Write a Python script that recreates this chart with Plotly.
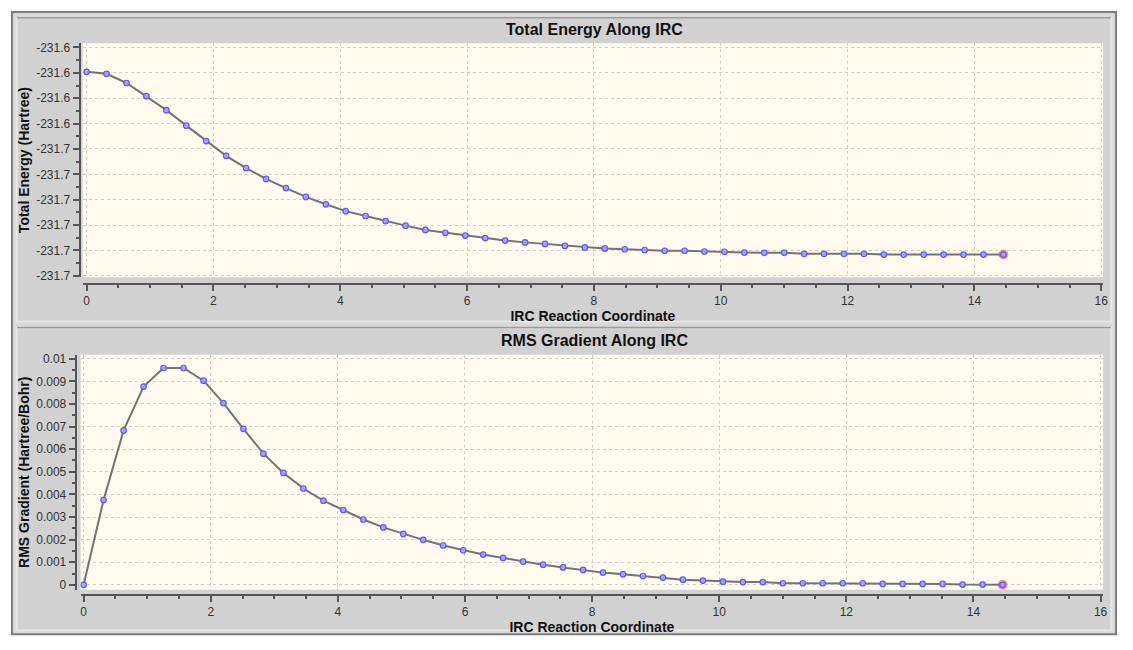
import plotly.graph_objects as go

# ---- data ----
irc_coord = [0.000, 0.314, 0.629, 0.943, 1.257, 1.572, 1.886, 2.200, 2.514, 2.829,
             3.143, 3.457, 3.772, 4.086, 4.400, 4.715, 5.029, 5.343, 5.657, 5.972,
             6.286, 6.600, 6.915, 7.229, 7.543, 7.858, 8.172, 8.486, 8.800, 9.115,
             9.429, 9.743, 10.058, 10.372, 10.686, 11.001, 11.315, 11.629, 11.943, 12.258,
             12.572, 12.886, 13.201, 13.515, 13.829, 14.144, 14.458]

total_energy = [-231.6196, -231.6204, -231.6240, -231.6292, -231.6347, -231.6408, -231.6469,
                -231.6527, -231.6575, -231.6618, -231.6654, -231.6689, -231.6718, -231.6745,
                -231.6764, -231.6784, -231.6802, -231.6819, -231.6830, -231.6841, -231.6851,
                -231.6861, -231.6868, -231.6874, -231.6882, -231.6888, -231.6892, -231.6895,
                -231.6898, -231.6901, -231.6901, -231.6904, -231.6905, -231.6908, -231.6909,
                -231.6909, -231.6913, -231.6913, -231.6913, -231.6913, -231.6916, -231.6916,
                -231.6916, -231.6916, -231.6916, -231.6916, -231.6916]

rms_gradient = [0.0, 0.00375, 0.00683, 0.00877, 0.00959, 0.00959, 0.00903, 0.00804, 0.00690,
                0.00580, 0.00495, 0.00426, 0.00372, 0.00331, 0.00289, 0.00254, 0.00225,
                0.00199, 0.00174, 0.00153, 0.00134, 0.00119, 0.00103, 0.00089, 0.00077,
                0.00066, 0.00054, 0.00047, 0.00039, 0.00032, 0.00023, 0.00019, 0.00014,
                0.00012, 0.00012, 0.00007, 0.00007, 0.00007, 0.00007, 0.00007, 0.00004,
                0.00004, 0.00004, 0.00004, 0.00001, 0.00001, 0.0]

energy_tickvals = [-231.61, -231.62, -231.63, -231.64, -231.65, -231.66, -231.67, -231.68, -231.69, -231.70]
energy_ticktext = ["-231.6", "-231.6", "-231.6", "-231.6", "-231.7", "-231.7", "-231.7", "-231.7", "-231.7", "-231.7"]
energy_minor = [-231.615, -231.625, -231.635, -231.645, -231.655, -231.665, -231.675, -231.685, -231.695]
grad_tickvals = [0, 0.001, 0.002, 0.003, 0.004, 0.005, 0.006, 0.007, 0.008, 0.009, 0.01]
grad_ticktext = ["0", "0.001", "0.002", "0.003", "0.004", "0.005", "0.006", "0.007", "0.008", "0.009", "0.01"]

panel_titles = ["Total Energy Along IRC", "RMS Gradient Along IRC"]
x_title = "IRC Reaction Coordinate"
y_titles = ["Total Energy (Hartree)", "RMS Gradient (Hartree/Bohr)"]

# ---- styling ----
W, H = 1133, 650
FONT = "Liberation Sans, Arial, sans-serif"
LINE_COL = "#737373"
MK_FILL = "rgba(165,165,255,0.9)"
MK_EDGE = "#5a5aff"
AX_COL = "#555555"
GRID_COL = "#cfcfcf"
PANEL = "#d1d1d1"
PLOT_BG = "#fffbef"


def px(x):
    return x / W


def py(y):
    return 1 - y / H


# plot-area boxes in pixels (left, right, top, bottom)
TOP_BOX = (83, 1108, 40.7, 278)
BOT_BOX = (81, 1108, 356.7, 595)

fig = go.Figure()

for xa, ya, yv in (("x", "y", total_energy), ("x2", "y2", rms_gradient)):
    fig.add_trace(go.Scatter(
        x=irc_coord[-1:], y=yv[-1:], xaxis=xa, yaxis=ya, mode="markers",
        marker=dict(size=10, color="rgba(255,115,115,0.8)", line=dict(width=0)),
        hoverinfo="skip", showlegend=False))
    fig.add_trace(go.Scatter(
        x=irc_coord, y=yv, xaxis=xa, yaxis=ya, mode="lines+markers",
        line=dict(color=LINE_COL, width=2),
        marker=dict(size=5.5, color=MK_FILL, line=dict(color=MK_EDGE, width=1.2)),
        showlegend=False))

tickfont = dict(family=FONT, size=12, color="#333333")
titlefont = dict(family=FONT, size=14, color="#111111", weight="bold")

common_x = dict(
    tick0=0, dtick=2, ticks="outside", ticklen=6, tickwidth=1.5, tickcolor=AX_COL,
    minor=dict(dtick=0.5, tick0=0, ticks="outside", ticklen=3, tickwidth=1.5,
               tickcolor=AX_COL, showgrid=False),
    showline=True, linecolor=AX_COL, linewidth=2,
    showgrid=True, gridcolor=GRID_COL, griddash="dot", gridwidth=1,
    zeroline=False, tickfont=tickfont, anchor="free",
    title=dict(text=x_title, font=titlefont, standoff=2),
)
common_y = dict(
    ticks="outside", ticklen=6, tickwidth=1.5, tickcolor=AX_COL,
    showline=True, linecolor=AX_COL, linewidth=2,
    showgrid=True, gridcolor=GRID_COL, griddash="dot", gridwidth=1,
    zeroline=False, tickfont=tickfont, anchor="free", side="left",
)

fig.update_layout(
    width=W, height=H,
    margin=dict(l=0, r=0, t=0, b=0),
    paper_bgcolor="white", plot_bgcolor=PLOT_BG,
    showlegend=False,
    xaxis=dict(common_x, domain=[px(TOP_BOX[0]), px(TOP_BOX[1])], range=[-0.063, 16.03],
               position=py(285)),
    yaxis=dict(common_y, domain=[py(TOP_BOX[3]), py(TOP_BOX[2])], range=[-231.7005, -231.6083],
               position=px(80), tickmode="array", tickvals=energy_tickvals,
               ticktext=energy_ticktext,
               minor=dict(tickmode="array", tickvals=energy_minor,
                          ticks="outside", ticklen=3, tickwidth=1.5, tickcolor=AX_COL,
                          showgrid=False),
               title=dict(text=y_titles[0], font=titlefont, standoff=2)),
    xaxis2=dict(common_x, domain=[px(BOT_BOX[0]), px(BOT_BOX[1])], range=[-0.047, 16.04],
                position=py(600)),
    yaxis2=dict(common_y, domain=[py(BOT_BOX[3]), py(BOT_BOX[2])], range=[-0.000218, 0.010175],
                position=px(76), tickmode="array", tickvals=grad_tickvals,
                ticktext=grad_ticktext,
                minor=dict(dtick=0.0005, tick0=0, ticks="outside", ticklen=3,
                           tickwidth=1.5, tickcolor=AX_COL, showgrid=False),
                title=dict(text=y_titles[1], font=titlefont, standoff=2)),
)


def rect(x0, x1, y0, y1, fill, line_col, lw):
    return dict(type="rect", xref="paper", yref="paper", x0=px(x0), x1=px(x1),
                y0=py(y1), y1=py(y0), fillcolor=fill,
                line=dict(color=line_col, width=lw), layer="below")


def hline(x0, x1, y, col, lw):
    return dict(type="line", xref="paper", yref="paper", x0=px(x0), x1=px(x1),
                y0=py(y), y1=py(y), line=dict(color=col, width=lw), layer="below")


shapes = [
    rect(12, 1121, 9, 640, "#d8d8d8", "#7d7d7d", 2),        # window frame
    rect(17, 1116, 15, 323, PANEL, "#e9e9e9", 1.5),          # top panel
    rect(17, 1116, 329, 636, PANEL, "#e9e9e9", 1.5),         # bottom panel
    hline(17, 1116, 15, "#9a9a9a", 1.5),
    hline(17, 1116, 329, "#9a9a9a", 1.5),
    rect(TOP_BOX[0], TOP_BOX[1], TOP_BOX[2], TOP_BOX[3], PLOT_BG, PLOT_BG, 0),
    rect(BOT_BOX[0], BOT_BOX[1], BOT_BOX[2], BOT_BOX[3], PLOT_BG, PLOT_BG, 0),
]
fig.update_layout(shapes=shapes)

annotations = [
    dict(text=panel_titles[0], xref="paper", yref="paper", x=px(597), y=py(27),
         showarrow=False, xanchor="center", yanchor="middle",
         font=dict(family=FONT, size=16, color="#111111", weight="bold")),
    dict(text=panel_titles[1], xref="paper", yref="paper", x=px(597), y=py(342),
         showarrow=False, xanchor="center", yanchor="middle",
         font=dict(family=FONT, size=16, color="#111111", weight="bold")),
]
fig.update_layout(annotations=annotations)

fig.write_html(
    "out.html",
    config={"displayModeBar": False},
    post_script="document.body.style.margin='0';document.body.style.overflow='hidden';",
)
